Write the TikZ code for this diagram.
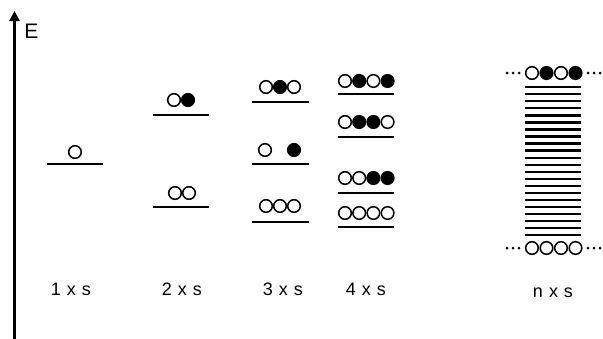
\documentclass[tikz,border=0pt]{standalone}
\usepackage{fontspec}
\setmainfont{Liberation Sans}
\usetikzlibrary{arrows.meta}
\tikzset{
  lvl/.style={line width=2.6pt},
  nlvl/.style={line width=2.2pt},
  eo/.style={circle, draw, line width=1.5pt, minimum size=12.6pt, inner sep=0pt, fill=white},
  ef/.style={circle, draw, fill=black, line width=1.5pt, minimum size=12.6pt, inner sep=0pt},
  dt/.style={circle, fill=black, minimum size=3pt, inner sep=0pt},
  lab/.style={font=\fontsize{18}{21}\selectfont, anchor=base},
}
\newcommand{\lxs}[1]{#1\hspace{6pt}x\hspace{6pt}s}
\begin{document}
\begin{tikzpicture}[x=1pt,y=-1pt]
\useasboundingbox (0,0) rectangle (603,338);
% axis
\coordinate (axb) at (14.5,340);
\coordinate (axt) at (14.5,11);
\draw[line width=3.4pt, -{Triangle[length=10pt,width=10pt]}] (axb) -- (axt);
\node[font=\fontsize{21}{24}\selectfont] (E) at (31.5,31) {E};
% 1 x s
\draw[lvl] (47,164) -- (103,164);
\node[eo] (a1) at (75,152) {};
% 2 x s
\draw[lvl] (153,115) -- (209,115);
\node[eo] (b1) at (174,100) {};
\node[ef] (b2) at (188,100) {};
\draw[lvl] (153,207) -- (209,207);
\node[eo] (b3) at (175,193) {};
\node[eo] (b4) at (189,193) {};
% 3 x s
\draw[lvl] (252,102) -- (309,102);
\node[eo] (c1) at (266,87) {};
\node[ef] (c2) at (280,87) {};
\node[eo] (c3) at (294,87) {};
\draw[lvl] (252,164) -- (309,164);
\node[eo] (c4) at (265,150) {};
\node[ef] (c5) at (294,150) {};
\draw[lvl] (252,222) -- (309,222);
\node[eo] (c6) at (266,206) {};
\node[eo] (c7) at (280,206) {};
\node[eo] (c8) at (294,206) {};
% 4 x s
\draw[lvl] (338,94) -- (394,94);
\draw[lvl] (338,137) -- (394,137);
\draw[lvl] (338,193) -- (394,193);
\draw[lvl] (338,227) -- (394,227);
\node[eo] (d1) at (345,81) {};
\node[ef] (d2) at (359.2,81) {};
\node[eo] (d3) at (373.4,81) {};
\node[ef] (d4) at (387.6,81) {};
\node[eo] (d5) at (345,122) {};
\node[ef] (d6) at (359.2,122) {};
\node[ef] (d7) at (373.4,122) {};
\node[eo] (d8) at (387.6,122) {};
\node[eo] (d9) at (345,178) {};
\node[eo] (d10) at (359.2,178) {};
\node[ef] (d11) at (373.4,178) {};
\node[ef] (d12) at (387.6,178) {};
\node[eo] (d13) at (345,213) {};
\node[eo] (d14) at (359.2,213) {};
\node[eo] (d15) at (373.4,213) {};
\node[eo] (d16) at (387.6,213) {};
% n x s
\foreach \i in {0,...,21} {
  \draw[nlvl] (525,{87.3+7.03*\i}) -- (581,{87.3+7.03*\i});
}
\node[eo] (n1) at (532,73) {};
\node[ef] (n2) at (546.5,73) {};
\node[eo] (n3) at (561,73) {};
\node[ef] (n4) at (575.5,73) {};
\node[eo] (n5) at (532,248) {};
\node[eo] (n6) at (546.5,248) {};
\node[eo] (n7) at (561,248) {};
\node[eo] (n8) at (575.5,248) {};
\foreach \x [count=\k] in {507,513,519,588,594,600} {
  \node[dt] (tp\k) at (\x,73) {};
  \node[dt] (bt\k) at (\x,248) {};
}
% labels
\node[lab] (l1) at (71,295) {\lxs{1}};
\node[lab] (l2) at (182,295) {\lxs{2}};
\node[lab] (l3) at (283,295) {\lxs{3}};
\node[lab] (l4) at (366,295) {\lxs{4}};
\node[lab] (ln) at (553,297) {\lxs{n}};
\end{tikzpicture}
\end{document}
